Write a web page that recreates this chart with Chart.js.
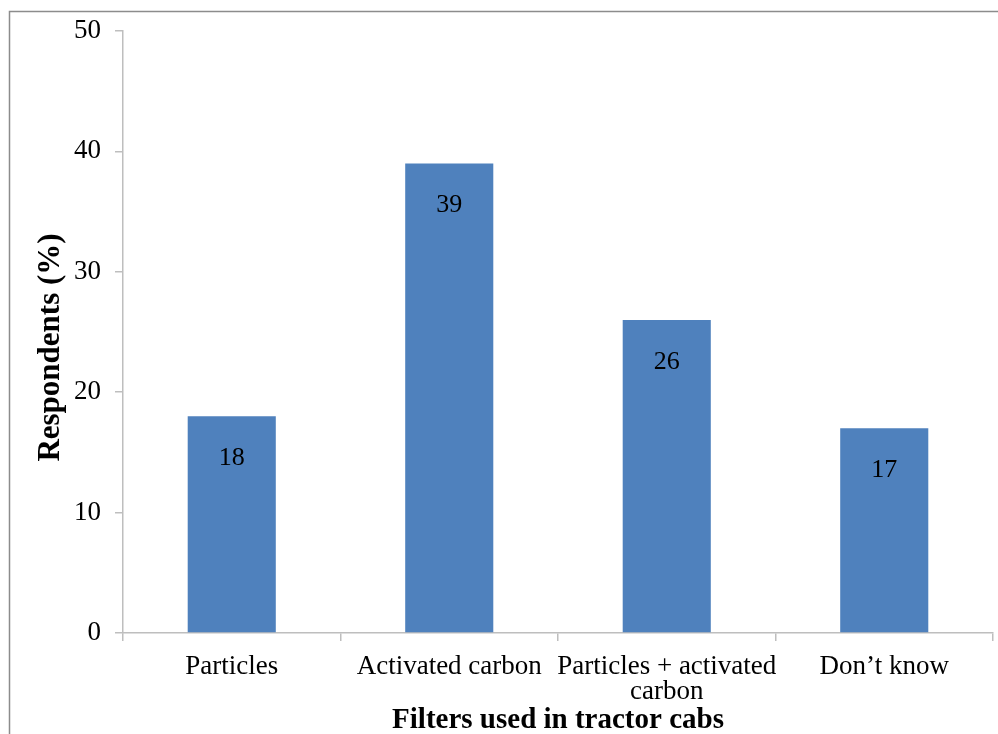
<!DOCTYPE html>
<html>
<head>
<meta charset="utf-8">
<script src="https://cdn.jsdelivr.net/npm/chart.js@4"></script>
<style>
  html, body { margin: 0; padding: 0; background: #fff; }
  #wrap { position: relative; width: 998px; height: 734px; }
</style>
</head>
<body>
<div id="wrap"><canvas id="myChart" width="998" height="734"></canvas></div>
<script>
// chart data
var categories = [["Particles"], ["Activated carbon"], ["Particles + activated", "carbon"], ["Don\u2019t know"]];
var respondents = [18, 39, 26, 17];
var yTicks = [0, 10, 20, 30, 40, 50];

var barColor = 'rgb(79, 129, 189)';
var axisColor = 'rgb(190, 190, 190)';
var serif = "'Liberation Serif', 'Times New Roman', serif";

// grey frame round the figure, and values written inside the bars
const framePlugin = {
    id: 'frame',
    beforeDraw(chart) {
        const ctx = chart.ctx;
        ctx.save();
        ctx.strokeStyle = 'rgb(140, 140, 140)';
        ctx.lineWidth = 1.5;
        ctx.strokeRect(9.5, 11.5, 1000, 800);
        ctx.restore();
    }
};

const valuePlugin = {
    id: 'values',
    afterDatasetsDraw(chart) {
        const ctx = chart.ctx;
        const meta = chart.getDatasetMeta(0);
        ctx.save();
        ctx.font = '26px ' + serif;
        ctx.fillStyle = '#000';
        ctx.textAlign = 'center';
        ctx.textBaseline = 'middle';
        meta.data.forEach((bar, i) => {
            ctx.fillText(respondents[i], bar.x, bar.y + 42);
        });
        ctx.restore();
    }
};

const data = {
    labels: categories,
    datasets: [{
        backgroundColor: barColor,
        borderWidth: 0,
        data: respondents,
        barPercentage: 0.405,
        categoryPercentage: 1
    }]
};

const config = {
    type: 'bar',
    data: data,
    options: {
        responsive: false,
        animation: false,
        layout: { padding: { top: 31, right: 5, left: 0, bottom: 0 } },
        plugins: {
            legend: { display: false },
            tooltip: { enabled: false }
        },
        scales: {
            x: {
                offset: true,
                grid: {
                    offset: true,
                    drawOnChartArea: false,
                    color: axisColor,
                    tickLength: 8,
                    lineWidth: 1.5
                },
                border: { color: axisColor, width: 1.5 },
                ticks: {
                    color: '#000',
                    font: { family: serif, size: 27, lineHeight: 0.93 },
                    maxRotation: 0,
                    autoSkip: false,
                    padding: 13
                },
                title: {
                    display: true,
                    text: 'Filters used in tractor cabs',
                    color: '#000',
                    font: { family: serif, size: 29, weight: 'bold', lineHeight: 0.9 },
                    padding: { top: 0, bottom: 0 }
                },
                afterFit(scale) { scale.height = 101; }
            },
            y: {
                min: 0,
                max: 50,
                afterBuildTicks(scale) {
                    scale.ticks = yTicks.map(v => ({ value: v }));
                },
                grid: {
                    drawOnChartArea: false,
                    color: axisColor,
                    tickLength: 8,
                    lineWidth: 1.5
                },
                border: { color: axisColor, width: 1.5 },
                ticks: {
                    color: '#000',
                    font: { family: serif, size: 27 },
                    padding: 14
                },
                title: {
                    display: true,
                    // trailing spaces push the rotated title a little lower, as in the original
                    text: 'Respondents (%)    ',
                    color: '#000',
                    font: { family: serif, size: 31, weight: 'bold', lineHeight: 1.2 },
                    padding: { top: 32, bottom: 0 }
                },
                afterFit(scale) { scale.width = 123; }
            }
        }
    },
    plugins: [framePlugin, valuePlugin]
};

const myChart = new Chart(document.getElementById('myChart'), config);
</script>
</body>
</html>
